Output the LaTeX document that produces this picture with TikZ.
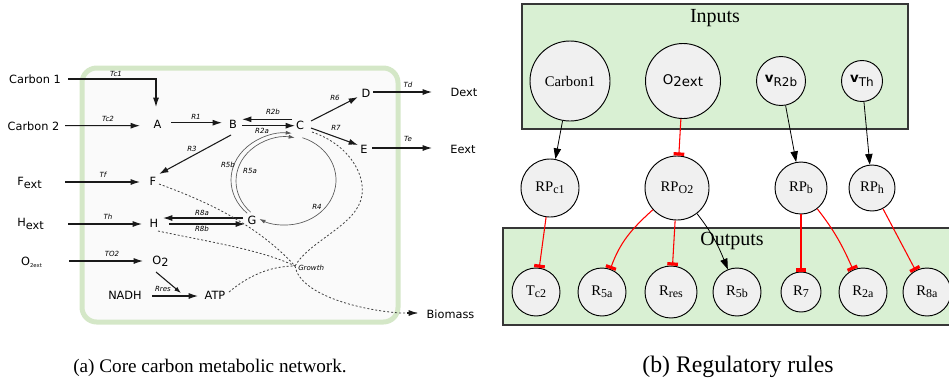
\documentclass[tikz,border=0pt]{standalone}
\usepackage{fontspec}
\setmainfont{Liberation Serif}
\newfontfamily\dv{DejaVu Sans}
\usetikzlibrary{arrows.meta,calc}

\definecolor{cellrim}{RGB}{212,231,199}
\definecolor{cellfill}{RGB}{250,250,250}
\definecolor{boxgreen}{RGB}{217,240,211}
\definecolor{nodegray}{RGB}{240,240,240}
\definecolor{boxrim}{RGB}{55,55,55}

% lowered index text used in species and reaction names
\newcommand{\low}[2][1.8pt]{\raisebox{-#1}{#2}}
\newcommand{\rsub}[1]{\raisebox{-1.6pt}{\fontsize{9pt}{9pt}\selectfont #1}}

\tikzset{
  met/.style={font=\dv\fontsize{8.5pt}{10pt}\selectfont, inner sep=0pt},
  rx/.style={font=\dv\itshape\fontsize{5.3pt}{6pt}\selectfont, inner sep=0pt},
  flux/.style={draw=black!90, line width=0.8pt, -{Latex[length=7pt,width=4.5pt]}},
  flow/.style={draw=black!75, line width=0.6pt, dash pattern=on 1.5pt off 1.5pt},
  cyc/.style={draw=black!65, line width=0.5pt, -{Latex[length=4.5pt,width=3pt]}},
  reg/.style={circle, draw=black, line width=0.7pt, fill=nodegray, inner sep=0pt,
              font=\fontsize{11pt}{12pt}\selectfont},
  act/.style={draw=black, line width=0.6pt, -{Triangle[length=8pt,width=5.5pt]}},
  inh/.style={draw=red, line width=0.8pt, -{Rectangle[length=2.4pt,width=8pt]}},
  cluster/.style={draw=boxrim, line width=0.8pt, fill=boxgreen},
  ttl/.style={font=\fontsize{15pt}{16pt}\selectfont},
  captxt/.style={anchor=base}
}

\begin{document}
\begin{tikzpicture}[x=0.75pt,y=0.75pt]
\useasboundingbox (0,0) rectangle (949,-383);
\clip (0,0) rectangle (949,-383);

% ---------------- (a) metabolic network ----------------
\draw[cellrim, line width=3.75pt, fill=cellfill, rounded corners=11pt]
  (82,-68) rectangle (398,-322);

% external species
\node[met] (c1)   at (35,-79)    {Carbon 1};
\node[met] (c2)   at (33.5,-126) {Carbon 2};
\node[met] (fext) at (29.5,-183) {F\low{ext}};
\node[met] (hext) at (30.5,-224) {H\low{ext}};
\node[met] (o2x)  at (31.5,-262) {O\low[1.5pt]{\fontsize{4pt}{4pt}\selectfont 2ext}};
\node[met] (dext) at (464,-92)   {Dext};
\node[met] (eext) at (463,-149.5){Eext};
\node[met] (bio)  at (450.5,-314){Biomass};

% internal species
\node[met] (A) at (157.5,-124) {A};
\node[met] (B) at (233,-124)   {B};
\node[met] (C) at (300,-125.5) {C};
\node[met] (D) at (366,-93)    {D};
\node[met] (E) at (364,-149)   {E};
\node[met] (F) at (153,-181)   {F};
\node[met] (G) at (252,-220.5) {G};
\node[met] (H) at (154,-223)   {H};
\node[met] (O2) at (160.5,-261.5) {O\low{2}};
\node[met] (nadh) at (125,-295) {NADH};
\node[met] (atp)  at (215,-295) {ATP};
\coordinate (grow) at (295,-266);
\coordinate (loop) at (285,-180);

% transport and reaction fluxes
\draw[flux] ([shift={(33,0)}]c1.center) -| ([shift={(-1.5,17)}]A.center);
\draw[flux] ([shift={(31.5,0.3)}]c2.center) -- ([shift={(-17.5,-1.7)}]A.center);
\draw[flux] ([shift={(13.5,1.3)}]A.center) -- ([shift={(-11,1.3)}]B.center);
\draw[flux] ([shift={(-8,6.2)}]C.center) -- ([shift={(9,4.7)}]B.center);
\draw[flux] ([shift={(9,-1.7)}]B.center) -- ([shift={(-5,-0.2)}]C.center);
\draw[flux] ([shift={(11,4.5)}]C.center) -- ([shift={(-8,-4)}]D.center);
\draw[flux] ([shift={(11,-2.5)}]C.center) -- ([shift={(-6,4)}]E.center);
\draw[flux] ([shift={(7,1)}]D.center) -- ([shift={(-32,0)}]dext.center);
\draw[flux] ([shift={(8,1)}]E.center) -- ([shift={(-31,1.5)}]eext.center);
\draw[flux] ([shift={(-2,-11)}]B.center) -- ([shift={(6,7)}]F.center);
\draw[flux] ([shift={(35.5,1)}]fext.center) -- ([shift={(-13,-1)}]F.center);
\draw[flux] ([shift={(37.5,0)}]hext.center) -- ([shift={(-12,-1)}]H.center);
\draw[flux] ([shift={(-9,2.5)}]G.center) -- ([shift={(9,5)}]H.center);
\draw[flux] ([shift={(15,-1)}]H.center) -- ([shift={(-7,-3.5)}]G.center);
\draw[flux] ([shift={(37.5,1)}]o2x.center) -- ([shift={(-17.5,0.5)}]O2.center);
\draw[flux] ([shift={(27,-1)}]nadh.center) -- ([shift={(-17,-1)}]atp.center);
\draw[flux, -{Latex[length=5pt,width=3.5pt]}]
  ([shift={(-4.5,-10.5)}]O2.center) -- ([shift={(-34,2)}]atp.center);

% cycle C -> G and G -> C
\draw[cyc] ($(loop)+(70:38.25pt and 33.75pt)$)
  arc[start angle=70, end angle=-120, x radius=38.25pt, y radius=33.75pt];
\draw[cyc] ($(loop)+(1,0)+(225:41.25pt and 35.25pt)$)
  arc[start angle=225, end angle=84, x radius=41.25pt, y radius=35.25pt];
\draw[cyc] ($(loop)+(1,-1)+(225:37.5pt and 33pt)$)
  arc[start angle=225, end angle=80, x radius=37.5pt, y radius=33pt];

% growth drain
\draw[flow] ([shift={(6,-3)}]F.center) .. controls (200,-199) and (255,-222) .. (grow);
\draw[flow] ([shift={(4,-8)}]H.center) .. controls (210,-242) and (262,-250) .. (grow);
\draw[flow] ([shift={(14,3)}]atp.center) .. controls (248,-276) and (270,-266) .. (grow);
\draw[flow] ([shift={(12,-6.5)}]C.center) .. controls (350,-145) and (365,-175) .. (362,-195)
  .. controls (358,-225) and (310,-240) .. (grow);
\draw[flow] (grow) .. controls (300,-295) and (360,-310) .. (400,-313)
  -- ([shift={(-32.5,1)}]bio.center);
\draw[black!90, -{Latex[length=7pt,width=4.5pt]}, line width=0.8pt]
  (407,-313) -- ([shift={(-32.5,1)}]bio.center);

% flux labels
\node[rx] at (116,-74)  {Tc1};
\node[rx] at (108,-119) {Tc2};
\node[rx] at (196,-117) {R1};
\node[rx] at (273,-112) {R2b};
\node[rx] at (262,-131) {R2a};
\node[rx] at (335,-98)  {R6};
\node[rx] at (336,-128) {R7};
\node[rx] at (408,-85)  {Td};
\node[rx] at (408,-139) {Te};
\node[rx] at (192,-149) {R3};
\node[rx] at (103,-175) {Tf};
\node[rx] at (108,-217) {Th};
\node[rx] at (202,-213) {R8a};
\node[rx] at (202,-229) {R8b};
\node[rx] at (112,-254) {TO2};
\node[rx] at (163,-289) {Rres};
\node[rx] at (228,-165) {R5b};
\node[rx] at (250,-171) {R5a};
\node[rx] at (317,-207) {R4};
\node[rx, anchor=west] at (298,-268) {Growth};

\node[captxt, font=\fontsize{14.4pt}{16pt}\selectfont] at (210,-372)
  {(a) Core carbon metabolic network.};

% ---------------- (b) regulatory rules ----------------
\draw[cluster] (522,-4) rectangle (908,-129);
\node[ttl] at (715,-18) {Inputs};
\draw[cluster] (503,-228) rectangle (960,-325);
\node[ttl] at (732,-241) {Outputs};

% inputs
\node[reg, minimum size=60pt]    (carb) at (570,-81) {Carbon1};
\node[reg, minimum size=56.25pt] (o2in) at (683,-81)
  {\dv\fontsize{10pt}{11pt}\selectfont O\raisebox{-1.5pt}{2ext}};
\node[reg, minimum size=36.75pt] (vr)   at (781,-81)
  {\dv\fontsize{10pt}{11pt}\selectfont\textbf{v}\raisebox{-3pt}{\fontsize{9pt}{9pt}\selectfont R2b}};
\node[reg, minimum size=30.75pt] (vth)  at (862,-81)
  {\dv\fontsize{10pt}{11pt}\selectfont\textbf{v}\raisebox{-3pt}{\fontsize{9pt}{9pt}\selectfont Th}};

% regulatory proteins
\node[reg, minimum size=43.5pt] (rpc) at (550,-188) {RP\rsub{c1}};
\node[reg, minimum size=48pt]   (rpo) at (677,-188) {RP\rsub{O2}};
\node[reg, minimum size=39pt]   (rpb) at (801,-188) {RP\rsub{b}};
\node[reg, minimum size=34.5pt] (rph) at (872,-188) {RP\rsub{h}};

% outputs
\node[reg, minimum size=36pt] (tc2)  at (536,-292) {T\rsub{c2}};
\node[reg, minimum size=36pt] (r5a)  at (602,-292) {R\rsub{5a}};
\node[reg, minimum size=39pt] (rres) at (671,-292) {R\rsub{res}};
\node[reg, minimum size=36pt] (r5b)  at (737,-292) {R\rsub{5b}};
\node[reg, minimum size=30pt] (r7)   at (801,-292) {R\rsub{7}};
\node[reg, minimum size=36pt] (r2a)  at (863,-292) {R\rsub{2a}};
\node[reg, minimum size=36pt] (r8a)  at (927,-292) {R\rsub{8a}};

% activation and inhibition rules
\draw[act] (carb) -- (rpc);
\draw[inh] (o2in) -- (rpo);
\draw[act] (vr) -- (rpb);
\draw[act] (vth) -- (rph);
\draw[inh] (rpc) -- (tc2);
\draw[inh] (rpo) to[out=222, in=70] (r5a);
\draw[inh] (rpo) -- (rres);
\draw[act] (rpo) to[out=-52, in=112] (r5b);
\draw[inh] (rpb) -- (r7);
\draw[inh] (rpb) to[out=-52, in=114] (r2a);
\draw[inh] (rph) -- (r8a);

\node[captxt, font=\fontsize{17.8pt}{20pt}\selectfont] at (738,-372)
  {(b) Regulatory rules};
\end{tikzpicture}
\end{document}
